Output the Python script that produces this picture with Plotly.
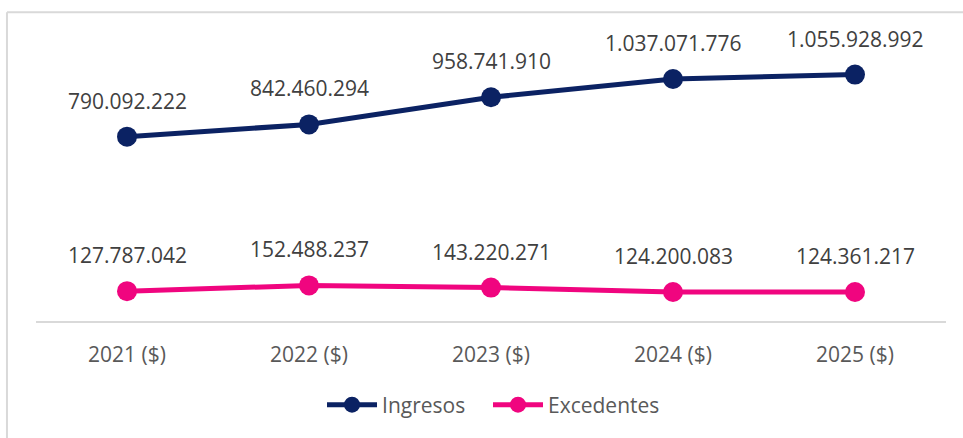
import plotly.graph_objects as go

categories = ["2021 ($)", "2022 ($)", "2023 ($)", "2024 ($)", "2025 ($)"]
ingresos = [790092222, 842460294, 958741910, 1037071776, 1055928992]
excedentes = [127787042, 152488237, 143220271, 124200083, 124361217]

def fmt(v):
    return f"{v:,}".replace(",", ".")

navy = "#0B2263"
pink = "#F0057F"

fig = go.Figure()
for name, vals, col, lg in [("Ingresos", ingresos, navy, "legend"),
                            ("Excedentes", excedentes, pink, "legend2")]:
    fig.add_trace(go.Scatter(
        x=categories, y=vals, name=name, mode="lines+markers", legend=lg,
        line=dict(color=col, width=5), marker=dict(color=col, size=20),
    ))
    for c, v in zip(categories, vals):
        fig.add_annotation(x=c, y=v, text=fmt(v), showarrow=False, yshift=36,
                           font=dict(family="Open Sans", size=21, color="#404040"))

border = "#D9D9D9"
fig.add_shape(type="line", xref="paper", yref="paper", x0=-0.0319, x1=-0.0319, y0=1.1025, y1=-0.42,
              line=dict(color=border, width=2))
fig.add_shape(type="line", xref="paper", yref="paper", x0=-0.0319, x1=1.03, y0=1.1025, y1=1.1025,
              line=dict(color=border, width=2))

legend_style = dict(orientation="h", xanchor="left", y=-0.30, yanchor="middle",
                    font=dict(size=21, color="#595959"), itemwidth=50)
fig.update_layout(
    width=963, height=438,
    margin=dict(l=36, r=17, t=41, b=114),
    plot_bgcolor="white", paper_bgcolor="white",
    font=dict(family="Open Sans", color="#595959"),
    showlegend=True,
    legend=dict(x=0.3143, **legend_style),
    legend2=dict(x=0.4967, **legend_style),
)
fig.update_xaxes(range=[-0.5, 4.5], showline=True, linecolor=border, linewidth=2,
                 showgrid=False, tickfont=dict(size=21, color="#595959"),
                 ticks="", ticklabelstandoff=14)
fig.update_yaxes(range=[0, 1200000000], visible=False, showgrid=False, zeroline=False)

fig.write_html("out.html", config={"displayModeBar": False},
               post_script="document.body.style.margin='0';document.body.style.padding='0';")
